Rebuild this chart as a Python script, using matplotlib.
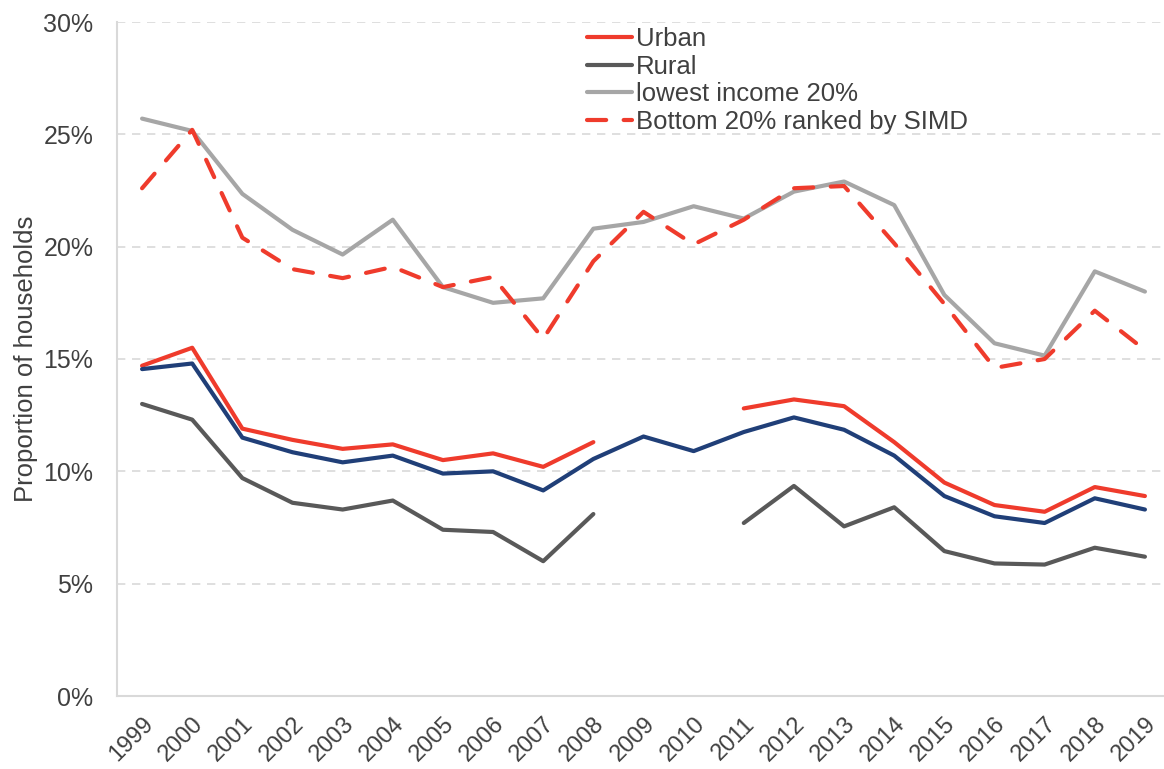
import numpy as np
import matplotlib.pyplot as plt
from matplotlib.transforms import ScaledTranslation

plt.rcParams['font.family'] = ['Liberation Sans', 'DejaVu Sans']

years = [str(y) for y in range(1999, 2020)]

# values in percent, nan = no data
urban = [14.7, 15.5, 11.9, 11.4, 11.0, 11.2, 10.5, 10.8, 10.2, 11.3, np.nan, np.nan,
         12.8, 13.2, 12.9, 11.3, 9.5, 8.5, 8.2, 9.3, 8.9]
rural = [13.0, 12.3, 9.7, 8.6, 8.3, 8.7, 7.4, 7.3, 6.0, 8.1, np.nan, np.nan,
         7.7, 9.35, 7.55, 8.4, 6.45, 5.9, 5.85, 6.6, 6.2]
lowest_income = [25.7, 25.15, 22.35, 20.75, 19.65, 21.2, 18.2, 17.5, 17.7, 20.8, 21.1, 21.8,
                 21.25, 22.45, 22.9, 21.85, 17.85, 15.7, 15.15, 18.9, 18.0]
simd_bottom = [22.6, 25.2, 20.4, 19.0, 18.6, 19.1, 18.2, 18.65, 15.9, 19.35, 21.55, 20.1,
               21.2, 22.6, 22.7, 20.15, 17.45, 14.6, 15.0, 17.15, 15.4]
all_households = [14.55, 14.8, 11.5, 10.85, 10.4, 10.7, 9.9, 10.0, 9.15, 10.55, 11.55, 10.9,
                  11.75, 12.4, 11.85, 10.7, 8.9, 8.0, 7.7, 8.8, 8.3]

red = '#EF3B2C'
dark = '#595959'
light = '#A6A6A6'
navy = '#203F78'
txt = '#404040'

fig = plt.figure(figsize=(11.64, 7.69), dpi=100)
# axes runs a little past the right edge, as in the original
ax = fig.add_axes([117/1164, 1 - 696/769, 1053/1164, 674/769])

x = np.arange(len(years))
lw = 3
ax.plot(x, urban, color=red, lw=lw, label='Urban', solid_capstyle='round', solid_joinstyle='round')
ax.plot(x, rural, color=dark, lw=lw, label='Rural', solid_capstyle='round', solid_joinstyle='round')
ax.plot(x, lowest_income, color=light, lw=lw, label='lowest income 20%', solid_capstyle='round', solid_joinstyle='round')
ax.plot(x, simd_bottom, color=red, lw=lw, dashes=(4.6, 4.2), dash_capstyle='round',
        label='Bottom 20% ranked by SIMD')
ax.plot(x, all_households, color=navy, lw=lw, solid_capstyle='round', solid_joinstyle='round')

ax.set_xlim(-0.5, len(years) - 0.5)
ax.set_ylim(0, 30)
ax.set_yticks(range(0, 31, 5))
ax.set_yticklabels([f'{v}%' for v in range(0, 31, 5)], fontsize=18, color=txt)
ax.set_xticks(x)
ax.set_xticklabels(years, rotation=45, ha='right', rotation_mode='anchor', fontsize=17, color=txt)
shift = ScaledTranslation(-8/100, 0, fig.dpi_scale_trans)
for lab in ax.get_xticklabels():
    lab.set_transform(lab.get_transform() + shift)
ax.tick_params(axis='y', length=0, pad=17)
ax.tick_params(axis='x', length=0, pad=12)

ax.grid(axis='y', color='#D9D9D9', lw=1.2, linestyle=(0, (5, 4)))
ax.set_axisbelow(True)
for s in ['top', 'right']:
    ax.spines[s].set_visible(False)
for s in ['left', 'bottom']:
    ax.spines[s].set_color('#D9D9D9')
    ax.spines[s].set_linewidth(1.5)

ax.set_ylabel('Proportion of households', fontsize=18.5, color=txt, labelpad=4)

ax.legend(loc='upper left', bbox_to_anchor=(0.446, 0.993), frameon=False, fontsize=18.5,
          handlelength=1.75, handletextpad=0.16, labelspacing=0.15, borderaxespad=0,
          borderpad=0, labelcolor=txt)

fig.savefig('out.png', dpi=100)
